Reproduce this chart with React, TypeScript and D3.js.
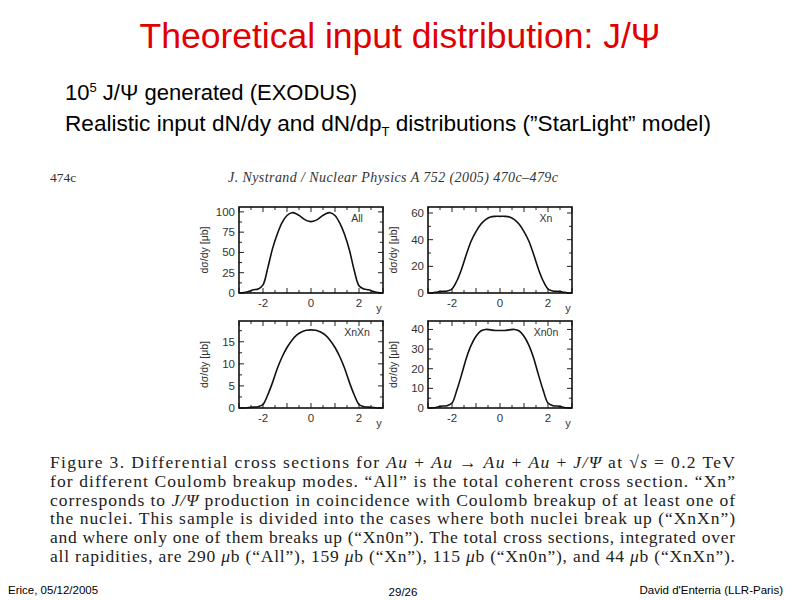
import React from "react";
import * as d3 from "d3";

const rapidity = [-3, -2.8, -2.6, -2.4, -2.2, -2, -1.8, -1.6, -1.4, -1.2, -1, -0.8, -0.6, -0.4, -0.2, 0, 0.2, 0.4, 0.6, 0.8, 1, 1.2, 1.4, 1.6, 1.8, 2, 2.2, 2.4, 2.6, 2.8, 3];
const allValues = [0, 0.5, 2, 4, 5, 10, 31, 55, 73, 87, 95.5, 99, 97.5, 93.5, 89.5, 88, 89.5, 93.5, 97.5, 99, 95.5, 86, 72, 53, 28, 9, 5, 4, 2, 0.5, 0];
const xnValues = [0, 0.2, 0.8, 1.3, 1.5, 3, 9, 18, 29, 39, 46, 51.5, 55, 57, 57.5, 57.5, 57.5, 57, 55, 51.5, 46, 39, 29, 18, 9, 3, 1.5, 1.3, 0.8, 0.2, 0];
const xnxnValues = [0, 0, 0.1, 0.2, 0.3, 0.8, 3.0, 5.8, 9.0, 11.6, 13.7, 15.3, 16.5, 17.2, 17.6, 17.7, 17.6, 17.2, 16.5, 15.3, 13.7, 11.6, 9.0, 5.8, 3.0, 0.8, 0.3, 0.2, 0.1, 0, 0];
const xn0nValues = [0, 0.1, 0.5, 1, 1.2, 2.5, 9, 17, 25.5, 32, 36.5, 39.2, 40, 39.8, 39.5, 39.5, 39.5, 39.8, 40, 39.2, 36.5, 32, 25.5, 17, 9, 2.5, 1.2, 1, 0.5, 0.1, 0];

const panelNames = ["All", "Xn", "XnXn", "Xn0n"];
const panelMax = [106, 64.5, 19.7, 44.3];
const panelTicks = [[0, 25, 50, 75, 100], [0, 20, 40, 60], [0, 5, 10, 15], [0, 10, 20, 30, 40]];
const panelMinor = [12.5, 10, 2.5, 5];
const xTickLabels = [-2, 0, 2];

const captionLines = [
  "Figure 3.  Differential cross sections for |Au| + |Au| → |Au| + |Au| + |J/Ψ| at √|s| = 0.2 TeV",
  "for different Coulomb breakup modes.  “All” is the total coherent cross section.  “Xn”",
  "corresponds to |J/Ψ| production in coincidence with Coulomb breakup of at least one of",
  "the nuclei.  This sample is divided into the cases where both nuclei break up (“XnXn”)",
  "and where only one of them breaks up (“Xn0n”).  The total cross sections, integrated over",
  "all rapidities, are 290 |μ|b (“All”), 159 |μ|b (“Xn”), 115 |μ|b (“Xn0n”), and 44 |μ|b (“XnXn”).",
];

const seriesList = [allValues, xnValues, xnxnValues, xn0nValues];
const frames = [
  { x0: 239, x1: 383, y0: 207, y1: 293 },
  { x0: 428, x1: 572, y0: 207, y1: 293 },
  { x0: 239, x1: 383, y0: 321, y1: 408 },
  { x0: 428, x1: 572, y0: 321, y1: 408 },
];

function Panel({ idx }: { idx: number }) {
  const f = frames[idx];
  const x = d3.scaleLinear().domain([-3, 3]).range([f.x0, f.x1]);
  const y = d3.scaleLinear().domain([0, panelMax[idx]]).range([f.y1, f.y0]);
  const data = rapidity.map((r, i) => [r, seriesList[idx][i]] as [number, number]);
  const line = d3.line<[number, number]>().x((d) => x(d[0])).y((d) => y(d[1])).curve(d3.curveCatmullRom.alpha(0.5));
  const xMinor = d3.range(-3, 3.01, 0.5);
  const yMinor = d3.range(0, panelMax[idx], panelMinor[idx]);
  const font = "Liberation Sans, Arial, sans-serif";
  return (
    <g>
      {xMinor.map((t) => {
        const major = Math.abs(t - Math.round(t)) < 1e-6;
        const l = major ? 5 : 3;
        return (
          <g key={"x" + t}>
            <line x1={x(t)} x2={x(t)} y1={f.y1} y2={f.y1 - l} stroke="#222" strokeWidth={1} />
            <line x1={x(t)} x2={x(t)} y1={f.y0} y2={f.y0 + l} stroke="#222" strokeWidth={1} />
          </g>
        );
      })}
      {yMinor.map((t) => {
        const major = panelTicks[idx].includes(t);
        const l = major ? 5 : 3;
        return (
          <g key={"y" + t}>
            <line x1={f.x0} x2={f.x0 + l} y1={y(t)} y2={y(t)} stroke="#222" strokeWidth={1} />
            <line x1={f.x1} x2={f.x1 - l} y1={y(t)} y2={y(t)} stroke="#222" strokeWidth={1} />
          </g>
        );
      })}
      <path d={line(data) || ""} fill="none" stroke="#111" strokeWidth={1.6} />
      <rect x={f.x0} y={f.y0} width={f.x1 - f.x0} height={f.y1 - f.y0} fill="none" stroke="#111" strokeWidth={1.6} />
      {panelTicks[idx].map((t) => (
        <text key={"yl" + t} x={f.x0 - 4} y={y(t) + 4} textAnchor="end" fontFamily={font} fontSize={11.5} fill="#333">
          {t}
        </text>
      ))}
      {xTickLabels.map((t) => (
        <text key={"xl" + t} x={x(t)} y={f.y1 + 14} textAnchor="middle" fontFamily={font} fontSize={11.5} fill="#333">
          {t === -2 ? "-2" : t}
        </text>
      ))}
      <text x={f.x1 - 4} y={f.y1 + 19} textAnchor="middle" fontFamily={font} fontSize={11} fill="#333">y</text>
      <text x={f.x1 - 26} y={f.y0 + 15} textAnchor="middle" fontFamily={font} fontSize={10.5} fill="#333">
        {panelNames[idx]}
      </text>
      <text
        transform={`translate(${f.x0 - 31},${(f.y0 + f.y1) / 2}) rotate(-90)`}
        textAnchor="middle"
        fontFamily={font}
        fontSize={10.5}
        fill="#333"
      >
        dσ/dy [μb]
      </text>
    </g>
  );
}

function CaptionLine({ text, yPos }: { text: string; yPos: number }) {
  const parts = text.split("|");
  return (
    <text x={50} y={yPos} fontFamily="Liberation Serif, Times New Roman, serif" fontSize={17.5} fill="#222" textLength={685} lengthAdjust="spacing">
      {parts.map((p, i) => (
        <tspan key={i} fontStyle={i % 2 === 1 ? "italic" : "normal"}>
          {p}
        </tspan>
      ))}
    </text>
  );
}

export default function App() {
  const sans = "Liberation Sans, Arial, sans-serif";
  return (
    <div style={{ position: "fixed", left: 0, top: 0 }}>
      <svg width={800} height={600} style={{ display: "block", background: "#fff" }}>
        <rect x={0} y={0} width={800} height={600} fill="#fff" />
        <text x={400} y={48} textAnchor="middle" fontFamily={sans} fontSize={35.5} fill="#e00000">
          Theoretical input distribution: J/Ψ
        </text>
        <text x={65} y={100} fontFamily={sans} fontSize={22} fill="#000">
          10<tspan dy={-8} fontSize={13}>5</tspan>
          <tspan dy={8}> J/Ψ generated (EXODUS)</tspan>
        </text>
        <text x={65} y={131} fontFamily={sans} fontSize={22.6} fill="#000">
          Realistic input dN/dy and dN/dp<tspan dy={5} fontSize={13}>T</tspan>
          <tspan dy={-5}> distributions (”StarLight” model)</tspan>
        </text>
        <text x={50} y={182} fontFamily="Liberation Serif, Times New Roman, serif" fontSize={13.5} fill="#333">474c</text>
        <text x={228} y={182} fontFamily="Liberation Serif, Times New Roman, serif" fontStyle="italic" fontSize={14} fill="#333" textLength={330} lengthAdjust="spacing">
          J. Nystrand / Nuclear Physics A 752 (2005) 470c–479c
        </text>
        {panelNames.map((_, i) => (
          <Panel key={i} idx={i} />
        ))}
        {captionLines.map((l, i) => (
          <CaptionLine key={i} text={l} yPos={468 + i * 18.8} />
        ))}
        <text x={8} y={594} fontFamily={sans} fontSize={11.5} fill="#000">Erice, 05/12/2005</text>
        <text x={403} y={596} textAnchor="middle" fontFamily={sans} fontSize={11.5} fill="#000">29/26</text>
        <text x={783} y={594} textAnchor="end" fontFamily={sans} fontSize={11.5} fill="#000">David d'Enterria (LLR-Paris)</text>
      </svg>
    </div>
  );
}
